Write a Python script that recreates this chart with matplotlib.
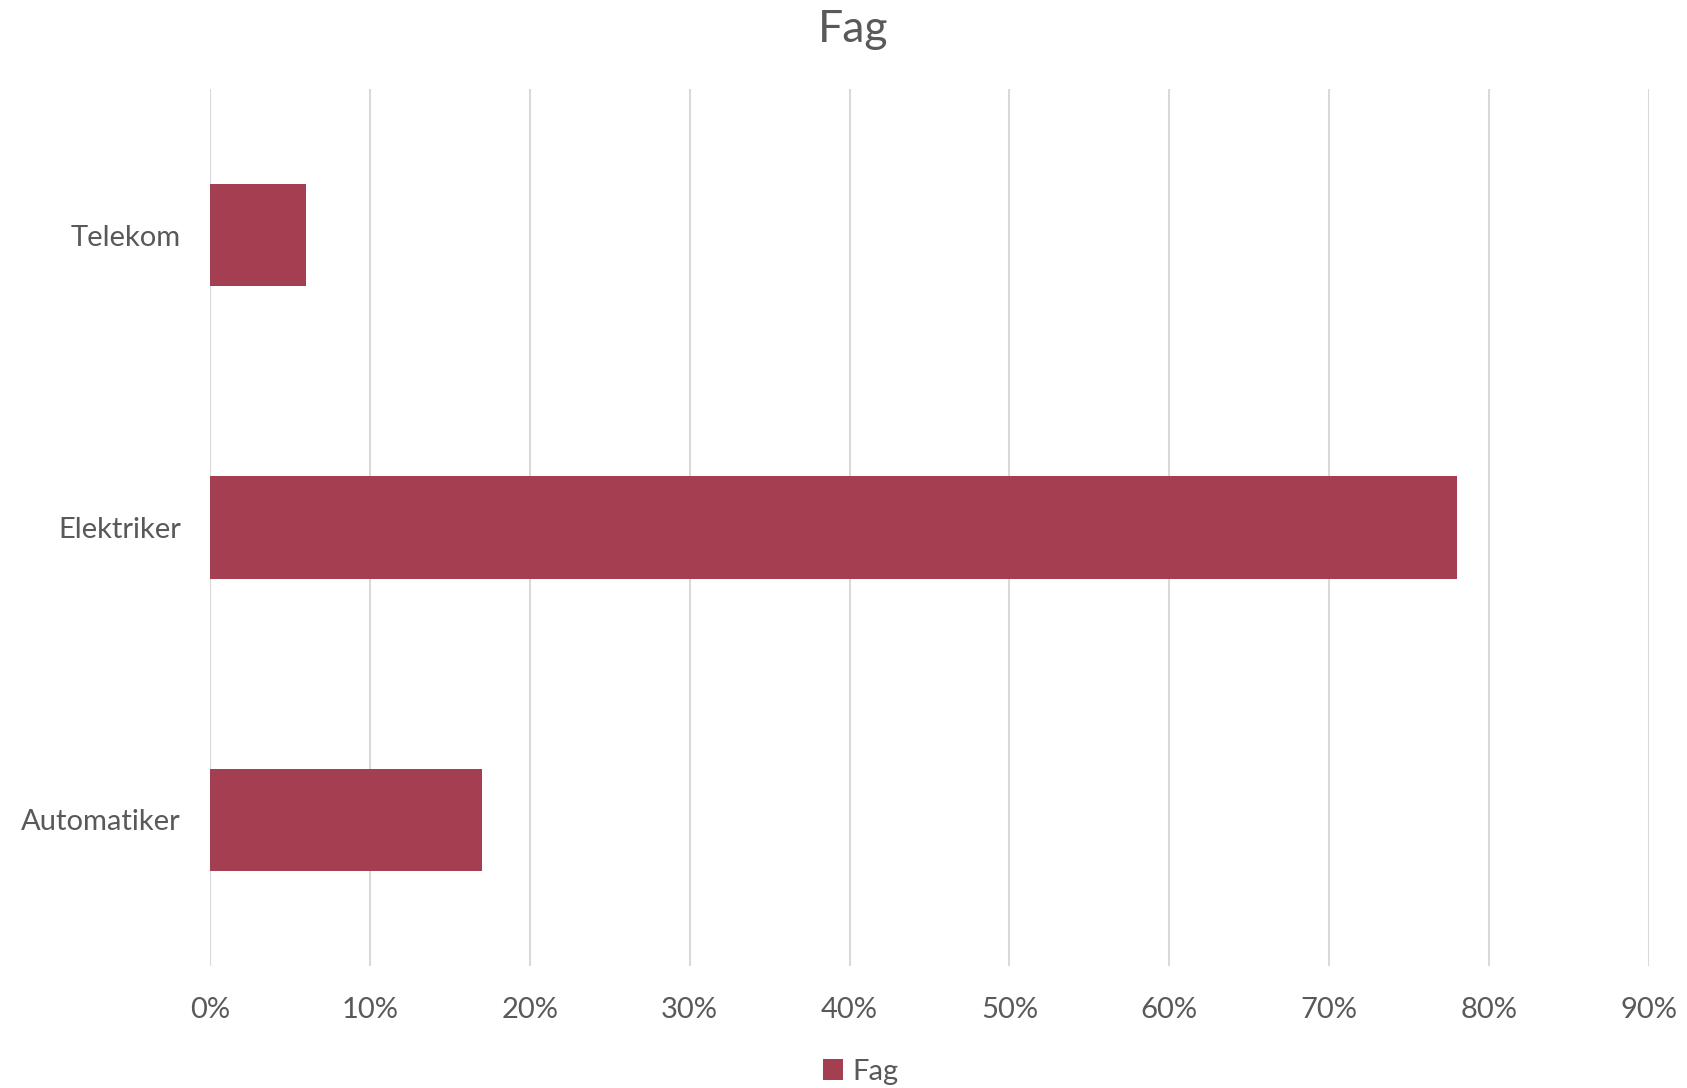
import matplotlib.pyplot as plt
from matplotlib.ticker import PercentFormatter

# Data
categories = ['Automatiker', 'Elektriker', 'Telekom']
values = [17, 78, 6]
ticks = list(range(0, 100, 10))

text_color = '#595959'
bar_color = '#A43F51'

plt.rcParams['font.family'] = ['Lato', 'DejaVu Sans']

fig = plt.figure(figsize=(16.87, 10.88), dpi=100)
ax = fig.add_axes([0.1245, 0.1121, 0.853, 0.8061])

ax.barh(categories, values, height=0.35, color=bar_color, label='Fag', zorder=3)

ax.set_xlim(0, 90)
ax.set_ylim(-0.5, 2.5)
ax.set_xticks(ticks)
ax.xaxis.set_major_formatter(PercentFormatter(decimals=0))
ax.grid(axis='x', color='#D9D9D9', linewidth=1.5, zorder=0)
ax.tick_params(axis='x', length=0, pad=22, labelsize=21, labelcolor=text_color)
ax.tick_params(axis='y', length=0, pad=21, labelsize=21, labelcolor=text_color)
for s in ax.spines.values():
    s.set_visible(False)

fig.text(0.5055, 0.973, 'Fag', ha='center', va='center', fontsize=32, color=text_color)

leg = fig.legend(loc='center', bbox_to_anchor=(0.51, 0.015), frameon=False,
                 fontsize=21, handlelength=0.7, handleheight=0.7, handletextpad=0.3)
for t in leg.get_texts():
    t.set_color(text_color)

fig.savefig('out.png', dpi=100, facecolor='white')
